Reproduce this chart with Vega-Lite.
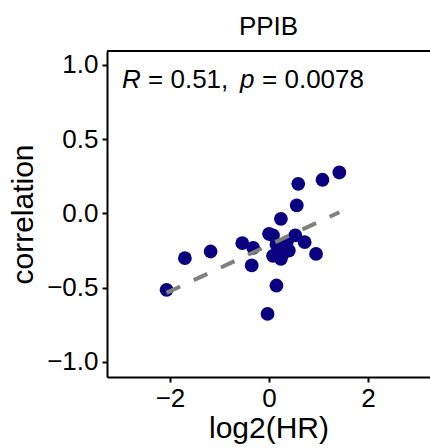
{
  "$schema": "https://vega.github.io/schema/vega-lite/v6.json",
  "autosize": "none",
  "padding": {"left": 107, "top": 51, "right": 0, "bottom": 71},
  "width": 323,
  "height": 326,
  "background": "white",
  "config": {
    "view": {"stroke": null},
    "font": "Liberation Sans",
    "axis": {
      "grid": false,
      "domainColor": "black",
      "domainWidth": 2,
      "tickColor": "black",
      "tickWidth": 2,
      "tickSize": 5,
      "labelFont": "Liberation Sans",
      "labelFontSize": 26,
      "labelColor": "black",
      "titleFont": "Liberation Sans",
      "titleFontSize": 30,
      "titleFontWeight": "normal",
      "titleColor": "black"
    }
  },
  "title": {"text": "PPIB", "fontSize": 26, "fontWeight": "normal", "font": "Liberation Sans", "color": "black", "anchor": "middle", "offset": 10},
  "datasets": {
    "pts": [
      {"log2HR": -2.07, "correlation": -0.514},
      {"log2HR": -1.70, "correlation": -0.301},
      {"log2HR": -1.18, "correlation": -0.256},
      {"log2HR": -0.54, "correlation": -0.200},
      {"log2HR": -0.32, "correlation": -0.231},
      {"log2HR": -0.35, "correlation": -0.350},
      {"log2HR": 0.00, "correlation": -0.137},
      {"log2HR": 0.08, "correlation": -0.148},
      {"log2HR": 0.08, "correlation": -0.285},
      {"log2HR": 0.24, "correlation": -0.305},
      {"log2HR": 0.30, "correlation": -0.230},
      {"log2HR": 0.36, "correlation": -0.193},
      {"log2HR": 0.20, "correlation": -0.260},
      {"log2HR": 0.53, "correlation": -0.148},
      {"log2HR": 0.72, "correlation": -0.193},
      {"log2HR": 0.95, "correlation": -0.272},
      {"log2HR": 0.15, "correlation": -0.485},
      {"log2HR": -0.03, "correlation": -0.676},
      {"log2HR": 0.24, "correlation": -0.036},
      {"log2HR": 0.56, "correlation": 0.054},
      {"log2HR": 0.59, "correlation": 0.200},
      {"log2HR": 1.08, "correlation": 0.227},
      {"log2HR": 1.42, "correlation": 0.276},
      {"log2HR": 0.28, "correlation": -0.270},
      {"log2HR": 0.40, "correlation": -0.250},
      {"log2HR": 0.15, "correlation": -0.210}
    ],
    "annItalic": [
      {"x": -2.97, "y": 0.842, "t": "R"},
      {"x": -0.586, "y": 0.842, "t": "p"}
    ],
    "annNormal": [
      {"x": -2.444, "y": 0.842, "t": "= 0.51,"},
      {"x": -0.141, "y": 0.842, "t": "= 0.0078"}
    ]
  },
  "layer": [
    {
      "data": {"name": "pts"},
      "mark": {"type": "point", "filled": true, "opacity": 1, "size": 190, "color": "#0b0080"},
      "encoding": {
        "x": {"field": "log2HR", "type": "quantitative", "scale": {"domain": [-3.273, 3.252], "nice": false, "zero": false}, "axis": {"values": [-2, 0, 2], "title": "log2(HR)", "titlePadding": 2, "labelPadding": 3}},
        "y": {"field": "correlation", "type": "quantitative", "scale": {"domain": [-1.101, 1.094], "nice": false, "zero": false}, "axis": {"values": [-1, -0.5, 0, 0.5, 1], "format": ".1f", "title": "correlation", "titlePadding": 8, "labelPadding": 4}}
      }
    },
    {
      "data": {"name": "pts"},
      "transform": [{"regression": "correlation", "on": "log2HR"}],
      "mark": {"type": "line", "color": "#808080", "strokeWidth": 4, "strokeDash": [15, 15], "strokeCap": "butt"},
      "encoding": {
        "x": {"field": "log2HR", "type": "quantitative"},
        "y": {"field": "correlation", "type": "quantitative"}
      }
    },
    {
      "data": {"name": "annItalic"},
      "mark": {"type": "text", "align": "left", "baseline": "alphabetic", "fontSize": 26, "fontStyle": "italic", "font": "Liberation Sans", "color": "black"},
      "encoding": {
        "x": {"field": "x", "type": "quantitative"},
        "y": {"field": "y", "type": "quantitative"},
        "text": {"field": "t"}
      }
    },
    {
      "data": {"name": "annNormal"},
      "mark": {"type": "text", "align": "left", "baseline": "alphabetic", "fontSize": 26, "font": "Liberation Sans", "color": "black"},
      "encoding": {
        "x": {"field": "x", "type": "quantitative"},
        "y": {"field": "y", "type": "quantitative"},
        "text": {"field": "t"}
      }
    },
    {
      "data": {"values": [{"v": 0}]},
      "mark": {"type": "rule", "color": "black", "strokeWidth": 2},
      "encoding": {
        "y": {"datum": 1.094, "type": "quantitative"}
      }
    }
  ]
}
